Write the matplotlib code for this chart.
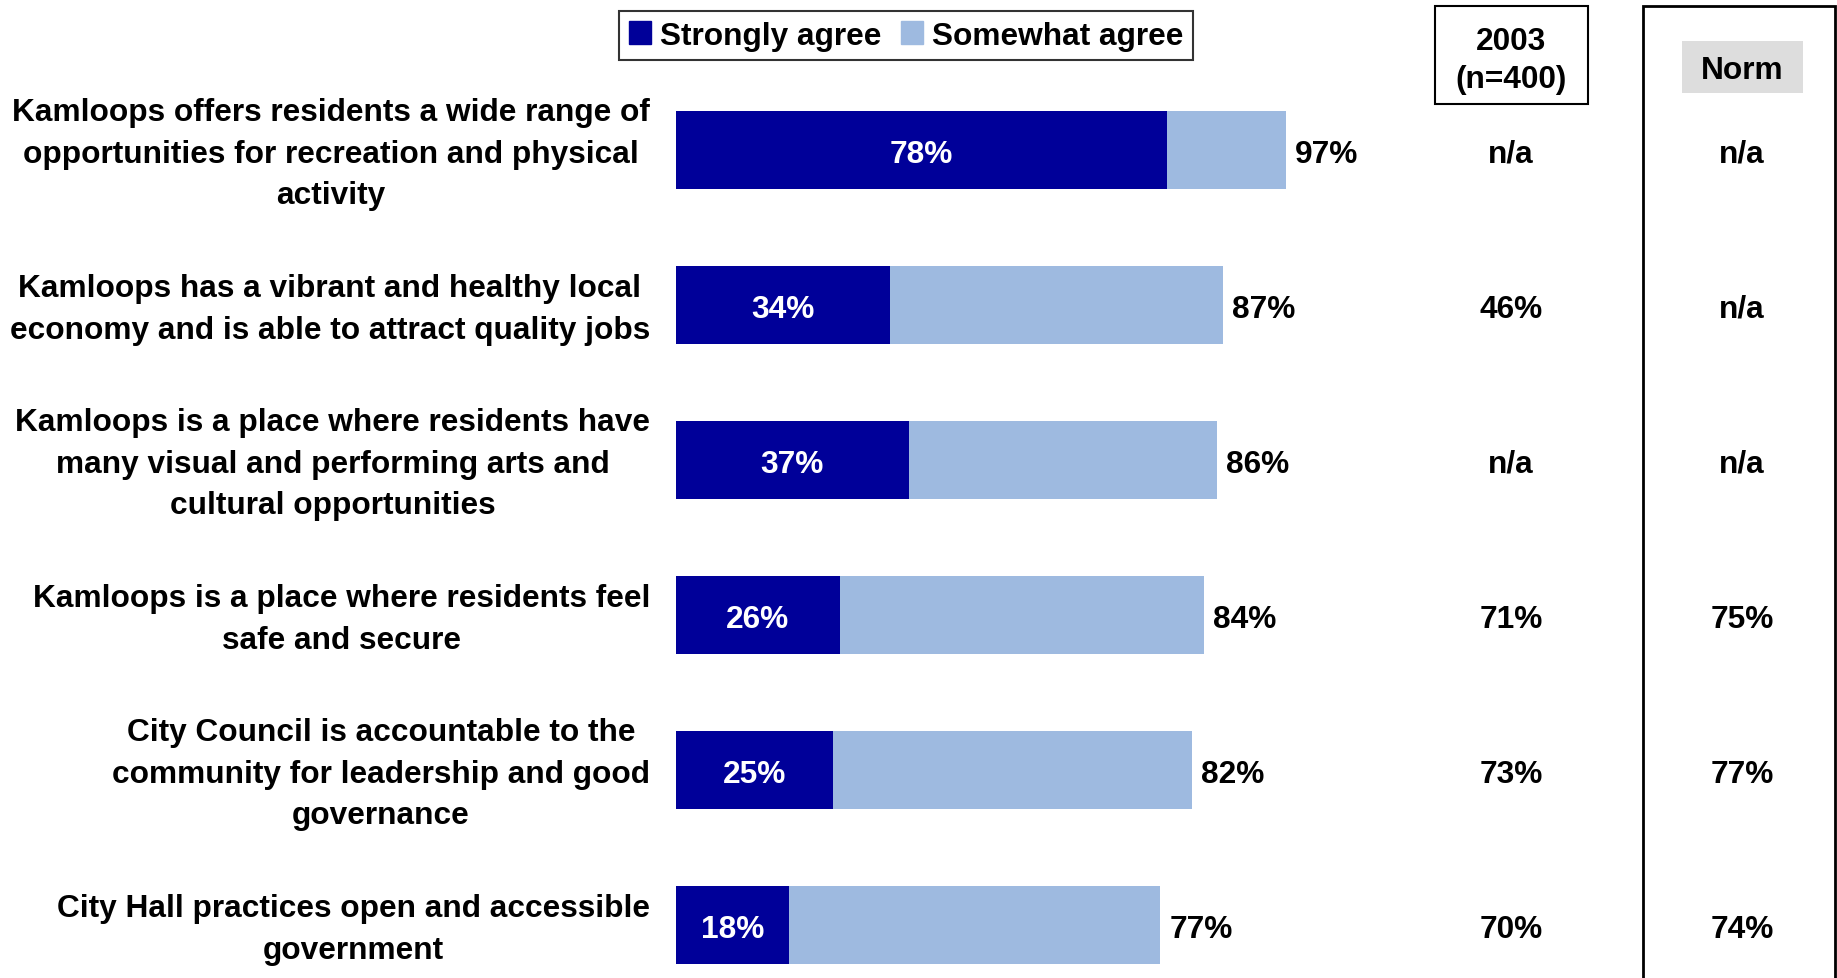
import matplotlib
matplotlib.use('Agg')
import matplotlib.pyplot as plt
from matplotlib.patches import Rectangle, Patch
import matplotlib.transforms as mtransforms

# data
categories = [
    "Kamloops offers residents a wide range of\nopportunities for recreation and physical\nactivity",
    "Kamloops has a vibrant and healthy local\neconomy and is able to attract quality jobs",
    "Kamloops is a place where residents have\nmany visual and performing arts and\ncultural opportunities",
    "Kamloops is a place where residents feel\nsafe and secure",
    "City Council is accountable to the\ncommunity for leadership and good\ngovernance",
    "City Hall practices open and accessible\ngovernment",
]
strongly = [78, 34, 37, 26, 25, 18]
somewhat = [19, 53, 49, 58, 57, 59]
col_2003 = ['n/a', '46%', 'n/a', '71%', '73%', '70%']
col_norm = ['n/a', 'n/a', 'n/a', '75%', '77%', '74%']

dark = '#000099'
light = '#9EBAE0'

plt.rcParams['font.family'] = 'Liberation Sans'
plt.rcParams['font.weight'] = 'bold'
fs = 22.8

W, H = 1837, 979
fig = plt.figure(figsize=(W / 100, H / 100), dpi=100)

# axes: bars start at x=676 px, 6.29 px per percent
ax_left = 676
px_per = 6.29
ax = fig.add_axes([ax_left / W, 0, 1 - ax_left / W, 1])
ax.set_xlim(0, (W - ax_left) / px_per)
# rows 155 px apart, first row centred at 151 px
ax.set_ylim((H - 151) / 155, -151 / 155)
ax.axis('off')

y = range(len(categories))
ax.barh(y, strongly, height=0.5, color=dark)
ax.barh(y, somewhat, left=strongly, height=0.5, color=light)

dy = 0.025  # nudge text a bit lower so it sits centred like the original
trans_lbl = mtransforms.blended_transform_factory(fig.transFigure, ax.transData)
for i in y:
    tot = strongly[i] + somewhat[i]
    ax.text(strongly[i] / 2, i + dy, f'{strongly[i]}%', color='white', ha='center', va='center',
            fontsize=fs, fontweight='bold')
    ax.text(tot + 1.4, i + dy, f'{tot}%', color='black', ha='left', va='center',
            fontsize=fs, fontweight='bold')
    ax.text(650 / W, i + dy, categories[i], transform=trans_lbl, ha='right', va='center',
            multialignment='center', fontsize=fs, fontweight='bold', linespacing=1.5)
    ax.text(1511 / W, i + dy, col_2003[i], transform=trans_lbl, ha='center', va='center',
            fontsize=fs, fontweight='bold')
    ax.text(1742 / W, i + dy, col_norm[i], transform=trans_lbl, ha='center', va='center',
            fontsize=fs, fontweight='bold')

# header boxes
def fig_rect(x0, y0, x1, y1, **kw):
    r = Rectangle((x0 / W, 1 - y1 / H), (x1 - x0) / W, (y1 - y0) / H,
                  transform=fig.transFigure, **kw)
    fig.add_artist(r)

fig_rect(1435, 7, 1588, 105, fill=False, edgecolor='black', linewidth=1.5)
fig.text(1511 / W, 1 - 61 / H, '2003\n(n=400)', ha='center', va='center',
         fontsize=fs, fontweight='bold', linespacing=1.35)
fig_rect(1643, 7, 1835, 990, fill=False, edgecolor='black', linewidth=2, clip_on=False)
fig_rect(1682, 42, 1803, 94, facecolor='#DDDDDD', edgecolor='none')
fig.text(1742 / W, 1 - 71 / H, 'Norm', ha='center', va='center',
         fontsize=fs, fontweight='bold')

handles = [Patch(color=dark, label='Strongly agree'), Patch(color=light, label='Somewhat agree')]
leg = fig.legend(handles=handles, loc='upper left', bbox_to_anchor=(619 / W, 1 - 12 / H),
                 ncol=2, frameon=True, fancybox=False, edgecolor='black',
                 prop={'size': fs, 'weight': 'bold'}, handlelength=0.7, handleheight=0.7,
                 handletextpad=0.3, columnspacing=0.6, borderpad=0.3, borderaxespad=0)
leg.get_frame().set_linewidth(1.5)

fig.savefig('out.png', dpi=100)
